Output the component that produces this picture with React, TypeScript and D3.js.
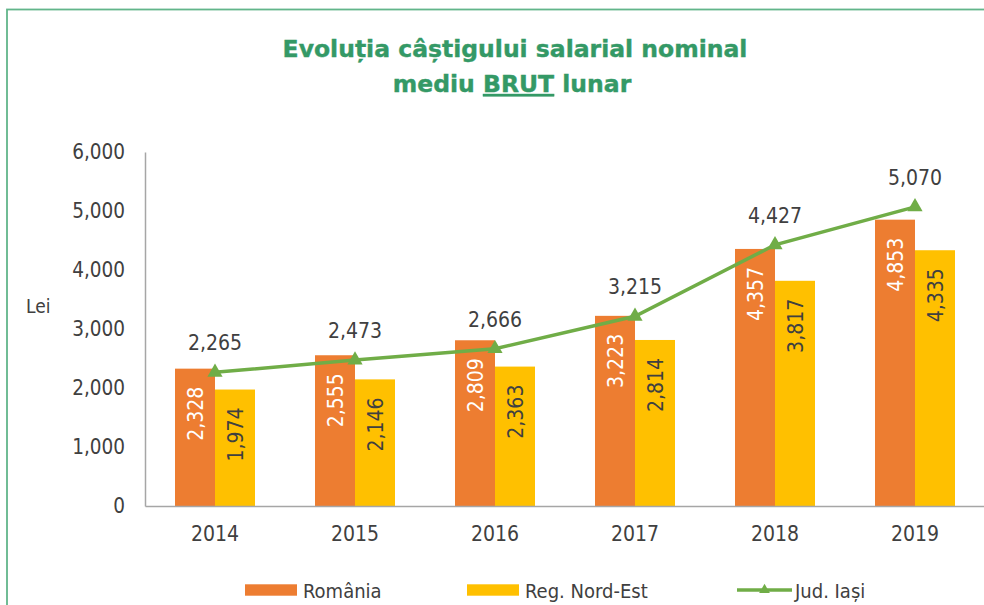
import React, { useEffect, useRef } from 'react'
import * as d3 from 'd3'

const years = ['2014', '2015', '2016', '2017', '2018', '2019']
const romania = [2328, 2555, 2809, 3223, 4357, 4853]
const nordEst = [1974, 2146, 2363, 2814, 3817, 4335]
const iasi = [2265, 2473, 2666, 3215, 4427, 5070]
const yTicks = [0, 1000, 2000, 3000, 4000, 5000, 6000]

const legendItems = [
  { label: 'România', type: 'bar', color: '#ED7D31' },
  { label: 'Reg. Nord-Est', type: 'bar', color: '#FFC000' },
  { label: 'Jud. Iași', type: 'line', color: '#70AD47' },
]

const width = 984
const height = 605
const textColor = '#404040'
const numFont = '"DejaVu Sans Condensed", "DejaVu Sans", sans-serif'

export default function App() {
  const svgRef = useRef<SVGSVGElement>(null)

  useEffect(() => {
    if (!svgRef.current) return
    const svg = d3.select(svgRef.current)
    svg.selectAll('*').remove()

    // chart frame
    svg
      .append('rect')
      .attr('x', 7)
      .attr('y', 9.5)
      .attr('width', 1000)
      .attr('height', 700)
      .attr('fill', 'white')
      .attr('stroke', '#62B58A')
      .attr('stroke-width', 1.8)

    // title
    const title = svg
      .append('text')
      .attr('text-anchor', 'middle')
      .attr('font-family', '"DejaVu Sans", sans-serif')
      .attr('font-weight', 'bold')
      .attr('font-size', 23.5)
      .attr('fill', '#349966')
      .attr('stroke', '#349966')
      .attr('stroke-width', 0.4)
    title.append('tspan').attr('x', 515).attr('y', 57).text('Evoluția câștigului salarial nominal')
    const line2 = title.append('tspan').attr('x', 512).attr('y', 92)
    line2.append('tspan').text('mediu ')
    line2.append('tspan').attr('text-decoration', 'underline').text('BRUT')
    line2.append('tspan').text(' lunar')

    const x = d3.scaleBand().domain(years).range([145, 985]).padding(0)
    const y = d3.scaleLinear().domain([0, 6000]).range([506, 152])
    const barW = 40
    const fmt = d3.format(',')
    const cx = (yr: string) => (x(yr) || 0) + x.bandwidth() / 2

    // y axis
    const yAxis = svg
      .append('g')
      .attr('transform', 'translate(145,0)')
      .call(d3.axisLeft(y).tickValues(yTicks).tickSize(0).tickPadding(20).tickFormat((d) => fmt(d as number)))
    yAxis.select('.domain').attr('stroke', '#A6A6A6').attr('stroke-width', 1.5)
    yAxis
      .selectAll('text')
      .attr('font-family', numFont)
      .attr('font-size', 20.5)
      .attr('fill', textColor)

    svg
      .append('text')
      .attr('x', 26)
      .attr('y', 313)
      .attr('font-family', numFont)
      .attr('font-size', 19)
      .attr('fill', textColor)
      .text('Lei')

    // bars
    const bars = svg.append('g')
    bars
      .selectAll('.ro')
      .data(romania)
      .join('rect')
      .attr('class', 'ro')
      .attr('x', (d, i) => cx(years[i]) - barW)
      .attr('y', (d) => y(d))
      .attr('width', barW)
      .attr('height', (d) => y(0) - y(d))
      .attr('fill', '#ED7D31')
    bars
      .selectAll('.ne')
      .data(nordEst)
      .join('rect')
      .attr('class', 'ne')
      .attr('x', (d, i) => cx(years[i]))
      .attr('y', (d) => y(d))
      .attr('width', barW)
      .attr('height', (d) => y(0) - y(d))
      .attr('fill', '#FFC000')

    // x axis
    const xAxis = svg
      .append('g')
      .attr('transform', 'translate(0,506)')
      .call(d3.axisBottom(x).tickSize(0).tickPadding(20))
    xAxis.select('.domain').attr('stroke', '#A6A6A6').attr('stroke-width', 1.5)
    xAxis
      .selectAll('text')
      .attr('font-family', numFont)
      .attr('font-size', 21)
      .attr('fill', textColor)

    // bar labels
    const barLabel = (vals: number[], dx: number, color: string) =>
      svg
        .append('g')
        .selectAll('text')
        .data(vals)
        .join('text')
        .attr('transform', (d, i) => `translate(${cx(years[i]) + dx},${y(d) + 18}) rotate(-90)`)
        .attr('text-anchor', 'end')
        .attr('dy', '0.36em')
        .attr('font-family', numFont)
        .attr('font-size', 21)
        .attr('fill', color)
        .text((d) => fmt(d))
    barLabel(romania, -barW / 2, 'white')
    barLabel(nordEst, barW / 2, textColor)

    // line series
    const line = d3
      .line<number>()
      .x((d, i) => cx(years[i]))
      .y((d) => y(d))
    svg
      .append('path')
      .datum(iasi)
      .attr('fill', 'none')
      .attr('stroke', '#70AD47')
      .attr('stroke-width', 3.5)
      .attr('d', line)
    svg
      .append('g')
      .selectAll('path')
      .data(iasi)
      .join('path')
      .attr('transform', (d, i) => `translate(${cx(years[i])},${y(d)})`)
      .attr('d', d3.symbol(d3.symbolTriangle, 100)())
      .attr('fill', '#70AD47')
    svg
      .append('g')
      .selectAll('text')
      .data(iasi)
      .join('text')
      .attr('x', (d, i) => cx(years[i]))
      .attr('y', (d) => y(d) - 22)
      .attr('text-anchor', 'middle')
      .attr('font-family', numFont)
      .attr('font-size', 21)
      .attr('fill', textColor)
      .text((d) => fmt(d))

    // legend
    const legendX = [245, 467, 737]
    const legend = svg.append('g').attr('transform', 'translate(0,590)')
    legend
      .selectAll('g')
      .data(legendItems)
      .join('g')
      .attr('transform', (d, i) => `translate(${legendX[i]},0)`)
      .each(function (d) {
        const g = d3.select(this)
        if (d.type === 'line') {
          g.append('line')
            .attr('x1', 0)
            .attr('x2', 55)
            .attr('stroke', d.color)
            .attr('stroke-width', 3.5)
          g.append('path')
            .attr('transform', 'translate(27.5,0)')
            .attr('d', d3.symbol(d3.symbolTriangle, 50)())
            .attr('fill', d.color)
          g.append('text')
            .attr('x', 58)
            .attr('y', 7.5)
            .attr('font-family', numFont)
            .attr('font-size', 20)
            .attr('fill', textColor)
            .text(d.label)
        } else {
          g.append('rect')
            .attr('x', 0)
            .attr('y', -5.7)
            .attr('width', 52)
            .attr('height', 11.4)
            .attr('fill', d.color)
          g.append('text')
            .attr('x', 58)
            .attr('y', 7.5)
            .attr('font-family', numFont)
            .attr('font-size', 20)
            .attr('fill', textColor)
            .text(d.label)
        }
      })
  }, [])

  return (
    <div>
      <style>{'body{margin:0}'}</style>
      <svg ref={svgRef} width={width} height={height} style={{ display: 'block' }} />
    </div>
  )
}
